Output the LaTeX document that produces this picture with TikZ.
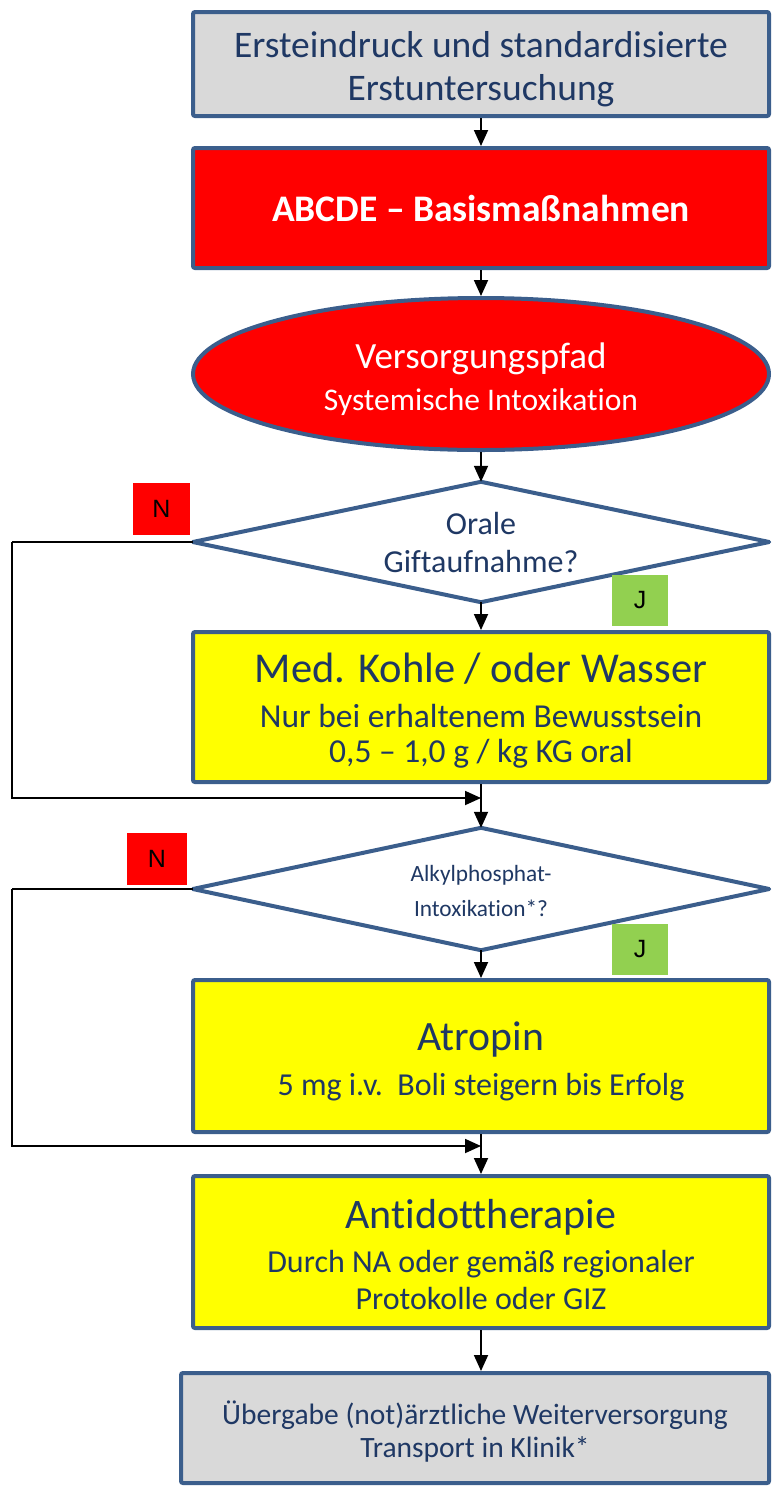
\documentclass[tikz,border=0pt]{standalone}
\usepackage{fontspec}
\setmainfont{Carlito}[Ligatures=NoCommon]
\newfontfamily\tagfont{Liberation Sans}
\usetikzlibrary{shapes.geometric,arrows.meta}
\definecolor{frame}{RGB}{59,94,140}
\definecolor{navy}{RGB}{31,56,100}
\definecolor{boxgray}{RGB}{217,217,217}
\definecolor{alarm}{RGB}{255,0,0}
\definecolor{hilite}{RGB}{255,255,0}
\definecolor{okgreen}{RGB}{146,208,80}
\newcommand{\fs}[2]{\fontsize{#1}{#2}\selectfont}
\begin{document}
\begin{tikzpicture}[x=1pt,y=-1pt,
  shapebase/.style={draw=frame,line width=4pt,inner sep=0pt},
  stepbox/.style={shapebase,rectangle,rounded corners=2pt,minimum width=576pt},
  boxtext/.style={align=center,inner sep=0pt,text=navy},
  decision/.style={rectangle,inner sep=0pt,minimum width=576pt},
  diamondline/.style={draw=frame,line width=4pt,fill=white,line join=round},
  tagbox/.style={rectangle,inner sep=0pt,minimum width=57pt,minimum height=52pt,font=\tagfont\fs{25}{28}},
  flow/.style={line width=1.8pt,-{Triangle[length=16pt,width=14pt]}},
  plainline/.style={line width=1.8pt}]
\useasboundingbox (0,0) rectangle (772,1489);

% main column: shapes
\node[stepbox,fill=boxgray,minimum height=104pt] (start) at (481,64) {};
\node[stepbox,fill=alarm,minimum height=120pt] (abcde) at (481,208) {};
\node[shapebase,ellipse,fill=alarm,minimum width=576pt,minimum height=152pt] (pfad) at (481,374) {};
\node[decision,minimum height=120pt] (oral) at (481,542) {};
\draw[diamondline] (oral.north) -- (oral.east) -- (oral.south) -- (oral.west) -- cycle;
\node[stepbox,fill=hilite,minimum height=150pt] (kohle) at (481,707) {};
\node[decision,minimum height=122pt] (alkyl) at (481,889) {};
\draw[diamondline] (alkyl.north) -- (alkyl.east) -- (alkyl.south) -- (alkyl.west) -- cycle;
\node[stepbox,fill=hilite,minimum height=152pt] (atropin) at (481,1056) {};
\node[stepbox,fill=hilite,minimum height=152pt] (antidot) at (481,1252) {};
\node[stepbox,fill=boxgray,minimum width=588pt,minimum height=110pt] (uebergabe) at (475,1428) {};

% main column: texts (canvas y points up, so a negative yshift lowers a text)
\node[boxtext,font=\fs{37.5}{43}] (starttext) at ([yshift=-5pt]start.center)
  {Ersteindruck und standardisierte\\Erstuntersuchung};
\node[boxtext,text=white,font=\fs{37.5}{43}\bfseries] (abcdetext) at (abcde.center)
  {ABCDE -- Basismaßnahmen};
\node[boxtext,text=white,font=\fs{31.5}{42}] (pfadtext) at ([yshift=-5pt]pfad.center)
  {\fs{37}{42}Versorgungspfad\\Systemische Intoxikation};
\node[boxtext,font=\fs{32}{38}] (oraltext) at (oral.center) {Orale\\Giftaufnahme?};
\node[boxtext,font=\fs{33.5}{35}] (kohletext) at ([yshift=-4pt]kohle.center)
  {\fs{42.5}{45}Med. Kohle / oder Wasser\\[10pt]Nur bei erhaltenem Bewusstsein\\0,5 -- 1,0 g / kg KG oral};
\node[boxtext,font=\fs{23.3}{35}] (alkyltext) at ([yshift=-2pt]alkyl.center) {Alkylphosphat-\\Intoxikation*?};
\node[boxtext,font=\fs{32}{35}] (atropintext) at ([yshift=-5pt]atropin.center)
  {\fs{41.7}{45}Atropin\\[10pt]5 mg i.v.\ \ Boli steigern bis Erfolg};
\node[boxtext,font=\fs{32}{37}] (antidottext) at ([yshift=-3pt]antidot.center)
  {\fs{42}{45}Antidottherapie\\[7pt]Durch NA oder gemäß regionaler\\Protokolle oder GIZ};
\node[boxtext,font=\fs{29.5}{33}] (uebergabetext) at ([yshift=-4pt]uebergabe.center)
  {Übergabe (not)ärztliche Weiterversorgung\\Transport in Klinik*};

% yes / no tags
\node[tagbox,fill=alarm] (n1) at (161.5,509) {N};
\node[tagbox,fill=okgreen,minimum width=56pt,minimum height=51pt] (j1) at (640,600.5) {J};
\node[tagbox,fill=alarm,minimum width=60pt] (n2) at (157,859) {N};
\node[tagbox,fill=okgreen,minimum width=56pt,minimum height=51pt] (j2) at (640,949.5) {J};

% junction points of the bypass lines
\coordinate (join1) at (481,798);
\coordinate (join2) at (481,1146);
\coordinate (corner1) at (12,542);
\coordinate (corner2) at (12,889);

% connectors
\draw[flow] (start.south) -- (abcde.north);
\draw[flow] (abcde.south) -- (pfad.north);
\draw[flow] (pfad.south) -- (oral.north);
\draw[flow] (oral.south) -- (kohle.north);
\draw[flow] (kohle.south) -- (alkyl.north);
\draw[flow] (alkyl.south) -- (atropin.north);
\draw[flow] (atropin.south) -- (antidot.north);
\draw[flow] (antidot.south) -- (antidot.south |- uebergabe.north);
\draw[plainline] (oral.west) -- (corner1);
\draw[flow] (corner1) |- (join1);
\draw[plainline] (alkyl.west) -- (corner2);
\draw[flow] (corner2) |- (join2);
\end{tikzpicture}
\end{document}
